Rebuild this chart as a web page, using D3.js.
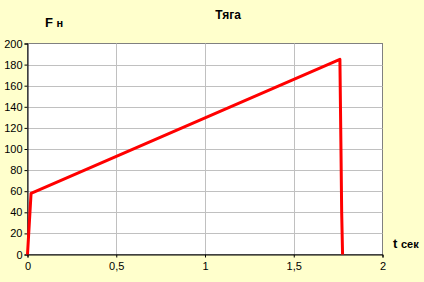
<!DOCTYPE html>
<html>
<head>
<meta charset="utf-8">
<script src="https://cdn.jsdelivr.net/npm/d3@7"></script>
<style>
body { margin: 0; background: #FFFFCC; }
text { font-family: Arial, "Liberation Sans", sans-serif; }
</style>
</head>
<body>
<div id="chart"></div>
<script>
var timeValues = [0, 0.02, 1.76, 1.766, 1.77, 1.775];
var forceValues = [0, 58, 185, 100, 40, 0];
var xTicks = [0, 0.5, 1, 1.5, 2];
var yTicks = [0, 20, 40, 60, 80, 100, 120, 140, 160, 180, 200];

plot_line_graph(timeValues, forceValues, "#chart");

function plot_line_graph (xs, ys, htmlObjectId) {
    var width = 424;
    var height = 282;
    var left = 27.5, right = 382.5, top = 43.5, bottom = 254.5;

    var x = d3.scaleLinear().domain([0, 2]).range([left, right]);
    var y = d3.scaleLinear().domain([0, 200]).range([bottom, top]);

    var canvas = d3.select(htmlObjectId)
                    .append("svg")
                    .attr("width", width)
                    .attr("height", height);

    canvas.append("rect")
        .attr("width", width).attr("height", height)
        .attr("fill", "#FFFFCC");

    canvas.append("rect")
        .attr("x", left).attr("y", top)
        .attr("width", right - left).attr("height", bottom - top)
        .attr("fill", "#fff")
        .attr("stroke", "#808080");

    // grid
    canvas.append("g").selectAll("line")
        .data(yTicks.slice(1, -1))
        .enter().append("line")
            .attr("x1", left).attr("x2", right)
            .attr("y1", function(d) { return Math.round(y(d)) + 0.5; })
            .attr("y2", function(d) { return Math.round(y(d)) + 0.5; })
            .attr("stroke", "#C0C0C0");

    canvas.append("g").selectAll("line")
        .data(xTicks.slice(1, -1))
        .enter().append("line")
            .attr("y1", top).attr("y2", bottom)
            .attr("x1", function(d) { return Math.round(x(d)) + 0.5; })
            .attr("x2", function(d) { return Math.round(x(d)) + 0.5; })
            .attr("stroke", "#C0C0C0");

    var yAxis = d3.axisLeft(y).tickValues(yTicks).tickSize(3).tickPadding(2)
        .tickFormat(d3.format("d"));
    var xAxis = d3.axisBottom(x).tickValues(xTicks).tickSize(3).tickPadding(5)
        .tickFormat(function(d) { return String(d).replace(".", ","); });

    var ya = canvas.append("g").attr("transform", "translate(" + left + ",0)").call(yAxis);
    var xa = canvas.append("g").attr("transform", "translate(0," + bottom + ")").call(xAxis);
    [ya, xa].forEach(function(a) {
        a.select(".domain").attr("stroke", "#000");
        a.selectAll(".tick line").attr("stroke", "#000");
        a.selectAll("text").attr("font-size", 11).attr("fill", "#000")
            .attr("font-family", "Arial, 'Liberation Sans', sans-serif");
    });

    var pts = xs.map(function(d, i) { return [d, ys[i]]; });
    var line = d3.line()
        .x(function(d) { return x(d[0]); })
        .y(function(d) { return y(d[1]); });

    canvas.append("path")
        .datum(pts)
        .attr("d", line)
        .attr("fill", "none")
        .attr("stroke", "#FF0000")
        .attr("stroke-width", 3)
        .attr("stroke-linejoin", "round");

    canvas.append("text")
        .attr("x", 228).attr("y", 19)
        .attr("text-anchor", "middle")
        .attr("font-size", 12).attr("font-weight", "bold")
        .text("Тяга");

    var fy = canvas.append("text")
        .attr("x", 45).attr("y", 27)
        .attr("font-weight", "bold");
    fy.append("tspan").attr("font-size", 13).text("F ");
    fy.append("tspan").attr("font-size", 11).text("н");

    var tx = canvas.append("text")
        .attr("x", 393).attr("y", 248)
        .attr("font-weight", "bold");
    tx.append("tspan").attr("font-size", 13).text("t ");
    tx.append("tspan").attr("font-size", 11).text("сек");
}
</script>
</body>
</html>
